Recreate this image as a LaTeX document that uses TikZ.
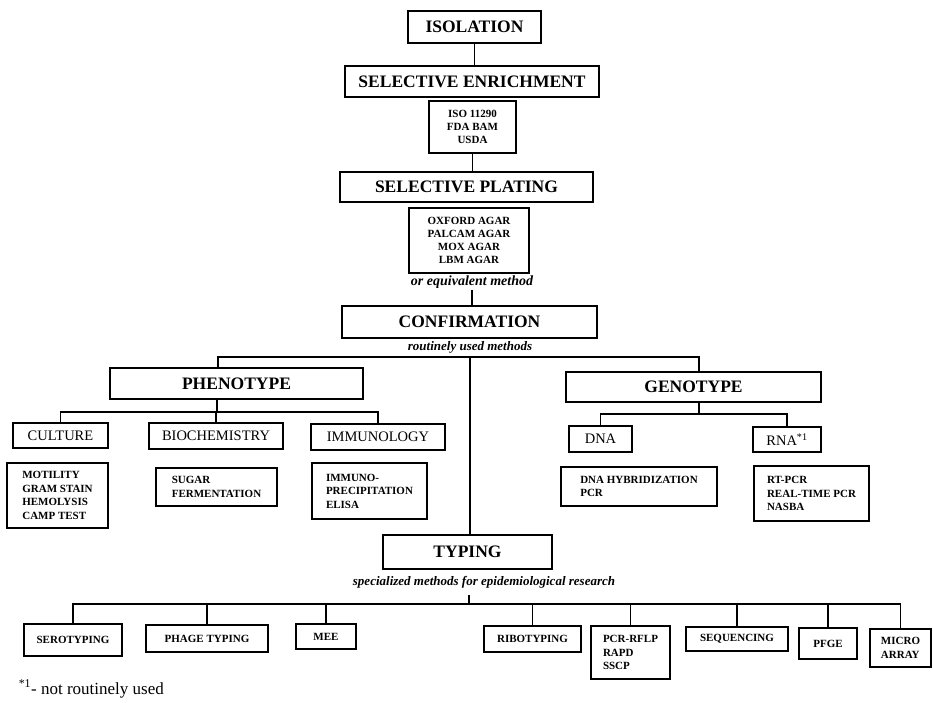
\documentclass[tikz,border=0pt]{standalone}
\usepackage{fontspec}
\setmainfont{Liberation Serif}
\begin{document}
\begin{tikzpicture}[x=1pt, y=-1pt, line width=1.5pt,
        head/.style={rectangle, draw, line width=1.5pt, inner sep=0pt, font=\fontsize{17.5}{20}\selectfont\bfseries},
        subhead/.style={rectangle, draw, line width=1.5pt, inner sep=0pt, minimum height=26pt, font=\fontsize{14.5}{16}\selectfont},
        listbox/.style={rectangle, draw, line width=1.5pt, inner sep=0pt, align=left, font=\fontsize{11}{13.5}\selectfont\bfseries},
        method/.style={rectangle, draw, line width=1.5pt, inner sep=0pt, font=\fontsize{11}{13}\selectfont\bfseries},
        note/.style={inner sep=1pt, font=\fontsize{13}{15}\selectfont\bfseries\itshape}
    ]
    \useasboundingbox (0,0) rectangle (933,703);

    % Main column
    \node[head, minimum width=133pt, minimum height=32pt] (iso) at (474.5,27) {ISOLATION};
    \node[head, minimum width=254pt, minimum height=31pt] (enrich) at (472,81.5) {SELECTIVE ENRICHMENT};
    \node[method, align=center, minimum width=87pt, minimum height=52pt] (norms) at (472.5,127) {ISO 11290\\FDA BAM\\USDA};
    \node[head, minimum width=253pt, minimum height=30pt] (plating) at (466.5,187) {SELECTIVE PLATING};
    \node[method, align=center, minimum width=120pt, minimum height=65pt] (agars) at (469,240.5) {OXFORD AGAR\\PALCAM AGAR\\MOX AGAR\\LBM AGAR};
    \node[note, font=\fontsize{14}{16}\selectfont\bfseries\itshape] (equiv) at (472,282) {or equivalent method};
    \node[head, minimum width=255pt, minimum height=32pt] (confirm) at (469.5,322) {CONFIRMATION};
    \node[note] (routine) at (470,347.5) {routinely used methods};

    \draw (iso.south) -- (iso.south |- enrich.north);
    \draw (norms.south) -- (norms.south |- plating.north);
    \draw (equiv.south) -- (equiv.south |- confirm.north);

    % Phenotype and genotype
    \node[head, minimum width=253pt, minimum height=31pt] (pheno) at (236.5,383.5) {PHENOTYPE};
    \node[head, minimum width=255pt, minimum height=30pt] (geno) at (693.5,387) {GENOTYPE};
    \coordinate (cbus) at (470,357);
    \draw ([xshift=-18.5pt]pheno.north) |- (cbus) -| ([xshift=5.5pt]geno.north);

    \node[subhead, minimum width=95pt, minimum height=25pt] (culture) at (60.5,435.5) {CULTURE};
    \node[subhead, minimum width=134pt] (biochem) at (216,436) {BIOCHEMISTRY};
    \node[subhead, minimum width=134pt] (immuno) at (378,437) {IMMUNOLOGY};
    \coordinate (pbus) at (217,412);
    \draw ([xshift=-19.5pt]pheno.south) -- (pbus);
    \draw (culture.north) |- (pbus) -| (immuno.north);
    \draw (biochem.north) -- (biochem.north |- pbus);

    \node[subhead, minimum width=63pt] (dna) at (600.5,439) {DNA};
    \node[subhead, minimum width=68pt, minimum height=25pt] (rna) at (787,439.5) {RNA\textsuperscript{*1}};
    \coordinate (gbus) at (699,414);
    \draw ([xshift=5.5pt]geno.south) -- (gbus);
    \draw (dna.north) |- (gbus) -| (rna.north);

    % Method lists
    \node[listbox, minimum width=101pt, minimum height=65pt] (cultlist) at (57.5,495.5) {MOTILITY\\GRAM STAIN\\HEMOLYSIS\\CAMP TEST};
    \node[listbox, minimum width=121pt, minimum height=38pt] (sugar) at (216.5,487) {SUGAR\\FERMENTATION};
    \node[listbox, minimum width=115pt, minimum height=56pt] (immlist) at (369.5,491) {IMMUNO-\\PRECIPITATION\\ELISA};
    \node[listbox, minimum width=156pt, minimum height=39pt] (dnalist) at (639,486.5) {DNA HYBRIDIZATION\\PCR};
    \node[listbox, minimum width=115pt, minimum height=55pt] (rnalist) at (811.5,493.5) {RT-PCR\\REAL-TIME PCR\\NASBA};

    % Typing
    \node[head, minimum width=169pt, minimum height=34pt] (typing) at (467.5,552) {TYPING};
    \node[note] (special) at (484,582) {specialized methods for epidemiological research};
    \draw (cbus) -- (cbus |- typing.north);

    \node[method, minimum width=98pt, minimum height=32pt] (sero) at (73,640) {SEROTYPING};
    \node[method, minimum width=122pt, minimum height=27pt] (phage) at (207,638.5) {PHAGE TYPING};
    \node[method, minimum width=60pt, minimum height=25pt] (mee) at (326,636.5) {MEE};
    \node[method, minimum width=97pt, minimum height=26pt] (ribo) at (532.5,639) {RIBOTYPING};
    \node[listbox, minimum width=79pt, minimum height=53pt] (pcr) at (630.5,652.5) {PCR-RFLP\\RAPD\\SSCP};
    \node[method, minimum width=102pt, minimum height=24pt] (seq) at (737,639) {SEQUENCING};
    \node[method, minimum width=58pt, minimum height=31pt] (pfge) at (828,643.5) {PFGE};
    \node[listbox, minimum width=61pt, minimum height=38pt] (micro) at (900.5,648) {MICRO\\ARRAY};

    \coordinate (ttick) at (469,595);
    \coordinate (tbus) at (469,604);
    \draw (ttick) -- (tbus);
    \draw (sero.north) |- (tbus) -| (micro.north);
    \foreach \m in {phage, mee, ribo, pcr, seq, pfge}
        \draw (\m.north) -- (\m.north |- tbus);

    % Footnote
    \node[anchor=west, inner sep=0pt, font=\fontsize{17}{19}\selectfont] (foot) at (18,689) {\textsuperscript{*1}- not routinely used};

\end{tikzpicture}
\end{document}
